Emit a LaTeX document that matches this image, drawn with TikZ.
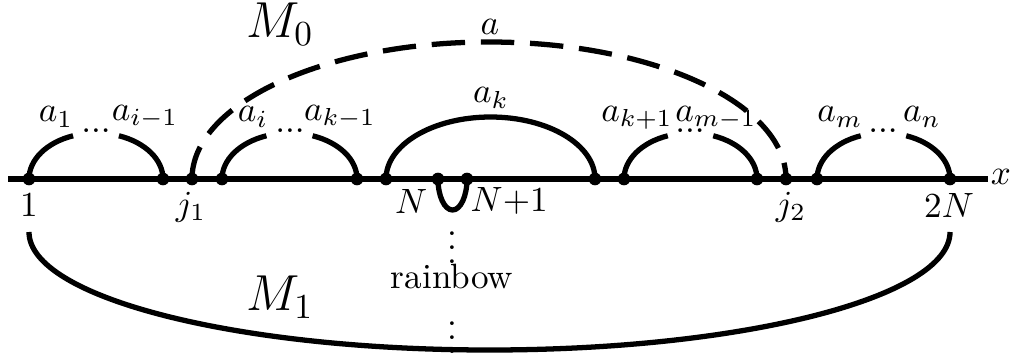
\documentclass[tikz,border=0pt]{standalone}
\usepackage{tikz}
\usetikzlibrary{positioning}
\tikzset{
  axisline/.style = {line width=1.5pt},
  pairarc/.style  = {line width=1.5pt},
  outerarc/.style = {line width=1.5pt, dash pattern=on 9.5pt off 4.5pt},
  pt/.style       = {circle, fill=black, inner sep=0pt, minimum size=3.6pt},
  lbl/.style      = {inner sep=0pt, font=\normalsize},
  biglbl/.style   = {inner sep=0pt, font=\Large},
}
\begin{document}
\begin{tikzpicture}[x=0.1mm,y=0.1mm]
  \useasboundingbox (0,0) rectangle (1016,360);

  % ----- axis and points -----
  \coordinate (xl) at (8,181);
  \coordinate (xr) at (988,181);
  \draw[axisline] (xl) -- (xr);
  \node[lbl] (xlab) at (1001,183) {$x$};
  \foreach \n/\x in {p1/29, pa/163, pj1/192, pb/222, pc/357, pd/386, pN/438,
                     pN1/467, pe/595, pf/624, pg/757, pj2/786, ph/817, p2N/950}
  {
    \node[pt] (\n) at (\x,181) {};
  }

  % ----- point labels -----
  \node[lbl] (l1)   at (29,155)  {$1$};
  \node[lbl] (lj1)  at (191,153) {$j_1$};
  \node[lbl, anchor=east] (lN)  at (428,159) {$N$};
  \node[lbl, anchor=west] (lN1) at (470,159) {$N{+}1$};
  \node[lbl] (lj2)  at (791,153) {$j_2$};
  \node[lbl] (l2N)  at (949,155) {$2N$};

  % ----- arcs above the axis -----
  \draw[pairarc] (p1) arc[start angle=180, end angle=110, x radius=67, y radius=46];
  \draw[pairarc] (pa) arc[start angle=0, end angle=70, x radius=67, y radius=46];
  \node[lbl] (d1) at (96,229) {$...$};
  \node[lbl] (la1)  at (56,243)  {$a_1$};
  \node[lbl] (lai1) at (145,243) {$a_{i-1}$};

  \draw[pairarc] (pb) arc[start angle=180, end angle=110, x radius=67.5, y radius=46];
  \draw[pairarc] (pc) arc[start angle=0, end angle=70, x radius=67.5, y radius=46];
  \node[lbl] (d2) at (290,229) {$...$};
  \node[lbl] (lai)  at (253,243) {$a_i$};
  \node[lbl] (lak1) at (340,243) {$a_{k-1}$};

  \draw[pairarc] (pd) arc[start angle=180, end angle=0, x radius=104.5, y radius=62];
  \node[lbl] (lak) at (491,262) {$a_k$};

  \draw[pairarc] (pf) arc[start angle=180, end angle=110, x radius=66.5, y radius=46];
  \draw[pairarc] (pg) arc[start angle=0, end angle=70, x radius=66.5, y radius=46];
  \node[lbl] (d4) at (690,229) {$...$};
  \node[lbl] (lakp) at (637,242) {$a_{k+1}$};
  \node[lbl] (lam1) at (716,242) {$a_{m-1}$};

  \draw[pairarc] (ph) arc[start angle=180, end angle=110, x radius=66.5, y radius=46];
  \draw[pairarc] (p2N) arc[start angle=0, end angle=70, x radius=66.5, y radius=46];
  \node[lbl] (d5) at (883,229) {$...$};
  \node[lbl] (lam) at (840,243) {$a_m$};
  \node[lbl] (lan) at (922,243) {$a_n$};

  % ----- M_0 : dashed arc a -----
  \draw[outerarc] (pj1) arc[start angle=180, end angle=0, x radius=297, y radius=137];
  \node[lbl] (la) at (490,333) {$a$};
  \node[biglbl] (lM0) at (280,336) {$M_0$};

  % ----- rainbow below -----
  \draw[pairarc] (pN) arc[start angle=180, end angle=360, x radius=14.5, y radius=31];
  \node[lbl] (v1) at (452,123) {$\vdots$};
  \node[lbl] (rb) at (452,84) {rainbow};
  \node[lbl] (v2) at (452,33) {$\vdots$};

  % ----- M_1 -----
  \coordinate (m1s) at (29,128);
  \draw[pairarc] (m1s) arc[start angle=180, end angle=360, x radius=460.5, y radius=118];
  \node[biglbl] (lM1) at (280,63) {$M_1$};
\end{tikzpicture}
\end{document}
